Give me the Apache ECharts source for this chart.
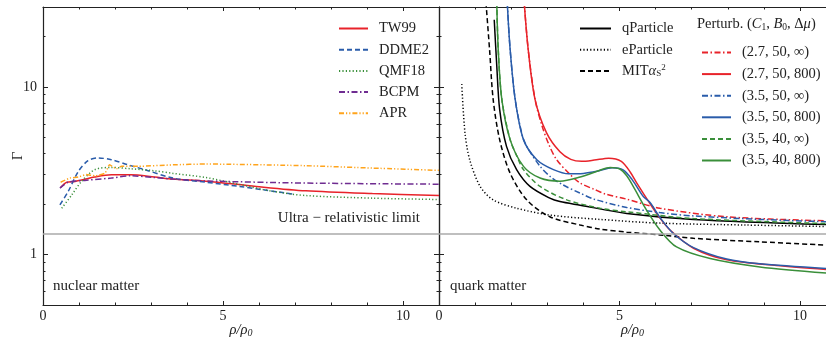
<!DOCTYPE html>
<html>
<head>
<meta charset="utf-8">
<script src="https://cdn.jsdelivr.net/npm/echarts@6/dist/echarts.min.js"></script>
<style>
  html, body { margin: 0; padding: 0; background: #fff; }
  #chart { width: 826px; height: 339px; }
</style>
</head>
<body>
<div id="chart"></div>
<script>
// nuclear matter (left panel), [rho/rho0, Gamma]
const tw99 = [[0.49, 2.51], [0.66, 2.70], [0.89, 2.73], [1.44, 2.90], [1.90, 2.99], [2.44, 2.99], [3.10, 2.90], [3.61, 2.82], [4.53, 2.74], [5.92, 2.55], [7.3, 2.40], [9.15, 2.31], [11, 2.25]]
const ddme2 = [[0.47, 1.98], [0.70, 2.38], [0.98, 3.13], [1.25, 3.63], [1.53, 3.77], [1.90, 3.68], [2.36, 3.43], [2.83, 3.21], [3.61, 2.86], [4.53, 2.70], [5.46, 2.55], [6.2, 2.42], [6.93, 2.30]]
const qmf18 = [[0.52, 1.89], [0.80, 2.27], [1.07, 2.73], [1.44, 3.21], [1.90, 3.31], [2.44, 3.25], [3.10, 3.16], [3.61, 3.05], [4.53, 2.88], [5.46, 2.62], [6.4, 2.38], [7.3, 2.25], [9.15, 2.17], [11, 2.13]]
const bcpm = [[0.47, 2.49], [0.70, 2.70], [1.16, 2.77], [1.90, 2.86], [2.44, 2.95], [3.10, 2.88], [3.61, 2.82], [4.53, 2.75], [7.3, 2.67], [11, 2.63]]
const apr = [[0.49, 2.70], [0.75, 2.86], [0.98, 2.90], [1.2, 3.0], [1.44, 2.95], [1.72, 3.06], [1.85, 3.43], [2.04, 3.25], [2.18, 3.36], [2.64, 3.36], [3.61, 3.43], [4.53, 3.47], [7.3, 3.39], [9.15, 3.28], [11, 3.18]]

// quark matter (right panel)
const qParticle = [[1.53, 25.2], [1.60, 13.4], [1.68, 7.35], [1.87, 4.42], [2.15, 3.21], [2.52, 2.55], [3.07, 2.17], [3.35, 2.07], [3.91, 1.97], [5.2, 1.76], [7.05, 1.62], [10.72, 1.51]]
const eParticle = [[0.63, 10.4], [0.72, 5.32], [0.85, 3.68], [1.14, 2.55], [1.50, 2.12], [2.15, 1.89], [3.07, 1.72], [4.46, 1.62], [6.12, 1.54], [8.5, 1.50], [10.72, 1.47]]
const mitAs2 = [[1.30, 32], [1.40, 16.8], [1.50, 8.44], [1.68, 4.85], [1.97, 3.06], [2.43, 2.12], [3.07, 1.68], [3.91, 1.50], [4.46, 1.42], [5.2, 1.36], [6.12, 1.31], [7.05, 1.25], [8.9, 1.19], [10.72, 1.14]]
const p27_50_inf = [[2.36, 32], [2.47, 16.8], [2.66, 8.44], [2.85, 5.9], [3.05, 4.5], [3.26, 3.68], [3.6, 3.05], [3.91, 2.67], [4.3, 2.45], [4.6, 2.3], [5.2, 2.14], [6.12, 1.89], [7.97, 1.68], [10.72, 1.59]]
const p27_50_800 = [[2.36, 32], [2.47, 16.8], [2.66, 8.44], [2.98, 5.32], [3.35, 4.1], [3.65, 3.7], [3.95, 3.6], [4.3, 3.66], [4.7, 3.76], [5.05, 3.6], [5.3, 3.1], [5.48, 2.67], [5.84, 2.02], [6.12, 1.65], [6.4, 1.4], [7.05, 1.09], [7.97, 0.93], [9.35, 0.86], [10.72, 0.815]]
const p35_50_inf = [[1.89, 32], [1.97, 16.8], [2.11, 8.44], [2.3, 5.2], [2.43, 4.42], [2.8, 3.36], [3.1, 2.9], [3.44, 2.6], [3.9, 2.33], [4.3, 2.14], [5.2, 1.91], [6.12, 1.78], [7.05, 1.70], [8.9, 1.62], [10.72, 1.57]]
const p35_50_800 = [[1.89, 32], [1.97, 16.8], [2.11, 8.44], [2.34, 4.85], [2.71, 3.68], [3.17, 3.21], [3.6, 3.03], [4.0, 3.05], [4.37, 3.14], [4.8, 3.3], [5.1, 3.2], [5.35, 2.8], [5.66, 2.22], [5.84, 2.05], [6.17, 1.61], [6.5, 1.33], [7.05, 1.1], [7.97, 0.94], [8.89, 0.88], [10.72, 0.825]]
const p35_40_inf = [[1.60, 32], [1.64, 16.8], [1.74, 8.44], [1.97, 4.85], [2.15, 3.9], [2.34, 3.21], [2.8, 2.55], [3.54, 2.12], [4.46, 1.89], [5.2, 1.80], [7.05, 1.64], [10.72, 1.53]]
const p35_40_800 = [[1.60, 32], [1.64, 16.8], [1.74, 8.44], [1.97, 4.85], [2.34, 3.36], [2.8, 2.86], [3.35, 2.74], [3.91, 2.9], [4.4, 3.15], [4.74, 3.31], [5.01, 3.24], [5.2, 2.95], [5.38, 2.55], [5.75, 1.84], [6.12, 1.40], [6.58, 1.11], [7.51, 0.946], [8.89, 0.843], [10.72, 0.775]]

const ultraLimit = 4 / 3
const yMajor = [1, 10]
const yMinor = [0.6, 0.7, 0.8, 0.9, 2, 3, 4, 5, 6, 7, 8, 9, 20, 30]
const nuclearNames = ['TW99', 'DDME2', 'QMF18', 'BCPM', 'APR']
const quarkNames = ['qParticle', 'eParticle', 'MITas2']
const perturbNames = ['(2.7, 50, ∞)', '(2.7, 50, 800)', '(3.5, 50, ∞)', '(3.5, 50, 800)', '(3.5, 40, ∞)', '(3.5, 40, 800)']

const FONT = '"Liberation Serif", "DejaVu Serif", serif'
const INK = '#222'
const RED = '#e8232a', BLUE = '#2a5caa', GREEN = '#3a8f3a', PURPLE = '#6f2c91', ORANGE = '#ffa41c'

const DASH = [5, 3], DOT = [1.2, 2.2], DASHDOT = [6, 2.5, 1.5, 2.5], DASHDOTDOT = [5, 2, 1.2, 2, 1.2, 2]

const chart = echarts.init(document.getElementById('chart'), null, { renderer: 'canvas' })

function xAxis(grid, max, bottom) {
  return {
    type: 'value', gridIndex: grid, min: 0, max: max, interval: 5,
    position: bottom ? 'bottom' : 'top',
    name: bottom ? 'ρ/ρ{s|0}' : '', nameLocation: 'middle', nameGap: 17, nameMoveOverlap: false,
    nameTextStyle: { fontFamily: FONT, fontSize: 14.5, fontStyle: 'italic', color: INK,
      rich: { s: { fontFamily: FONT, fontSize: 10, verticalAlign: 'bottom', color: INK, padding: [6, 0, 0, 0] } } },
    axisLine: { show: true, onZero: false, lineStyle: { color: INK, width: 1.2 } },
    axisTick: { show: true, inside: true, length: 4, lineStyle: { color: INK } },
    minorTick: { show: true, splitNumber: 5, length: 2.5, lineStyle: { color: INK } },
    axisLabel: { show: bottom, margin: 4, color: INK, fontFamily: FONT, fontSize: 14,
      showMinLabel: true, hideOverlap: false,
      formatter: (v) => (v % 5 === 0 ? String(v) : '') },
    splitLine: { show: false }, minorSplitLine: { show: false }
  }
}

function yAxis(grid, side, ticks, len, withLine, withLabels) {
  return {
    type: 'log', logBase: 10, gridIndex: grid, min: 0.5, max: 30, position: side,
    name: withLabels ? 'Γ' : '', nameLocation: 'middle', nameGap: 17, nameRotate: 90, nameMoveOverlap: false,
    nameTextStyle: { fontFamily: FONT, fontSize: 15, color: INK },
    axisLine: { show: withLine, onZero: false, lineStyle: { color: INK, width: 1.2 } },
    axisTick: { show: true, inside: true, length: len, customValues: ticks, lineStyle: { color: INK } },
    axisLabel: withLabels
      ? { show: true, customValues: yMajor, margin: 6, color: INK, fontFamily: FONT, fontSize: 14 }
      : { show: false },
    splitLine: { show: false }, minorTick: { show: false }
  }
}

function line(name, data, color, type, xi, yi, extra) {
  return Object.assign({
    name: name, type: 'line', data: data, xAxisIndex: xi, yAxisIndex: yi,
    symbol: 'none', smooth: 0.3, clip: true, z: 3,
    lineStyle: { color: color, width: 1.5, type: type },
    itemStyle: { color: color }
  }, extra || {})
}

const limitLine = {
  symbol: 'none', silent: true, label: { show: false },
  lineStyle: { color: '#aaaaaa', width: 1.5, type: 'solid' },
  data: [{ yAxis: ultraLimit }]
}

const legendText = {
  fontFamily: FONT, fontSize: 14.5, color: INK, padding: [0, 0, 0, 6],
  rich: {
    it: { fontFamily: FONT, fontSize: 14.5, fontStyle: 'italic', color: INK },
    sup: { fontFamily: FONT, fontSize: 9, color: INK, verticalAlign: 'top', lineHeight: 9 },
    sub: { fontFamily: FONT, fontSize: 9, color: INK, verticalAlign: 'bottom', lineHeight: 9 }
  }
}

const legendBase = {
  orient: 'vertical', padding: 0, itemHeight: 14, textStyle: legendText,
  itemStyle: { opacity: 0 }
}

chart.setOption({
  animation: false,
  grid: [
    { left: 43, top: 7, width: 396, height: 298, outerBoundsMode: 'none', containLabel: false },
    { left: 439, top: 7, width: 387, height: 298, outerBoundsMode: 'none', containLabel: false }
  ],
  xAxis: [xAxis(0, 11, true), xAxis(0, 11, false), xAxis(1, 10.72, true), xAxis(1, 10.72, false)],
  yAxis: [
    yAxis(0, 'left', yMajor, 5, true, true),
    yAxis(0, 'left', yMinor, 2.5, false, false),
    yAxis(0, 'right', yMajor, 5, true, false),
    yAxis(0, 'right', yMinor, 2.5, false, false),
    yAxis(1, 'left', yMajor, 5, true, false),
    yAxis(1, 'left', yMinor, 2.5, false, false)
  ],
  legend: [
    Object.assign({ data: nuclearNames, left: 338, top: 21, itemWidth: 29, itemGap: 6.2 }, legendBase),
    Object.assign({ data: quarkNames, left: 579, top: 21, itemWidth: 31, itemGap: 6.3,
      formatter: (n) => (n === 'MITas2' ? 'MIT{it|α}{sub|S}{sup|2}' : n) }, legendBase),
    Object.assign({ data: perturbNames, left: 701, top: 45, itemWidth: 29, itemGap: 6.6 }, legendBase)
  ],
  graphic: [
    { type: 'text', left: 53, top: 279, style: { text: 'nuclear matter', font: '15px ' + FONT, fill: INK } },
    { type: 'text', left: 450, top: 279, style: { text: 'quark matter', font: '15px ' + FONT, fill: INK } },
    { type: 'text', right: 406, top: 211, style: { text: 'Ultra − relativistic limit', font: '15px ' + FONT, fill: INK } },
    { type: 'text', left: 697, top: 17, style: {
      text: 'Perturb. ({i|C}{s|1}, {i|B}{s|0}, Δ{i|μ})', font: '14.5px ' + FONT, fill: INK,
      rich: {
        i: { fontFamily: FONT, fontSize: 14.5, fontStyle: 'italic', fill: INK },
        s: { fontFamily: FONT, fontSize: 9.5, fill: INK, verticalAlign: 'bottom', lineHeight: 10 }
      } } }
  ],
  series: [
    line('TW99', tw99, RED, 'solid', 0, 0, { markLine: limitLine }),
    line('DDME2', ddme2, BLUE, DASH, 0, 0),
    line('QMF18', qmf18, GREEN, DOT, 0, 0),
    line('BCPM', bcpm, PURPLE, DASHDOT, 0, 0),
    line('APR', apr, ORANGE, DASHDOTDOT, 0, 0, { smooth: 0.15 }),

    line('qParticle', qParticle, '#000', 'solid', 2, 4, { markLine: limitLine }),
    line('eParticle', eParticle, '#000', DOT, 2, 4),
    line('MITas2', mitAs2, '#000', DASH, 2, 4),
    line(perturbNames[0], p27_50_inf, RED, DASHDOT, 2, 4),
    line(perturbNames[1], p27_50_800, RED, 'solid', 2, 4),
    line(perturbNames[2], p35_50_inf, BLUE, DASHDOT, 2, 4),
    line(perturbNames[3], p35_50_800, BLUE, 'solid', 2, 4),
    line(perturbNames[4], p35_40_inf, GREEN, DASH, 2, 4),
    line(perturbNames[5], p35_40_800, GREEN, 'solid', 2, 4)
  ]
})
</script>
</body>
</html>
